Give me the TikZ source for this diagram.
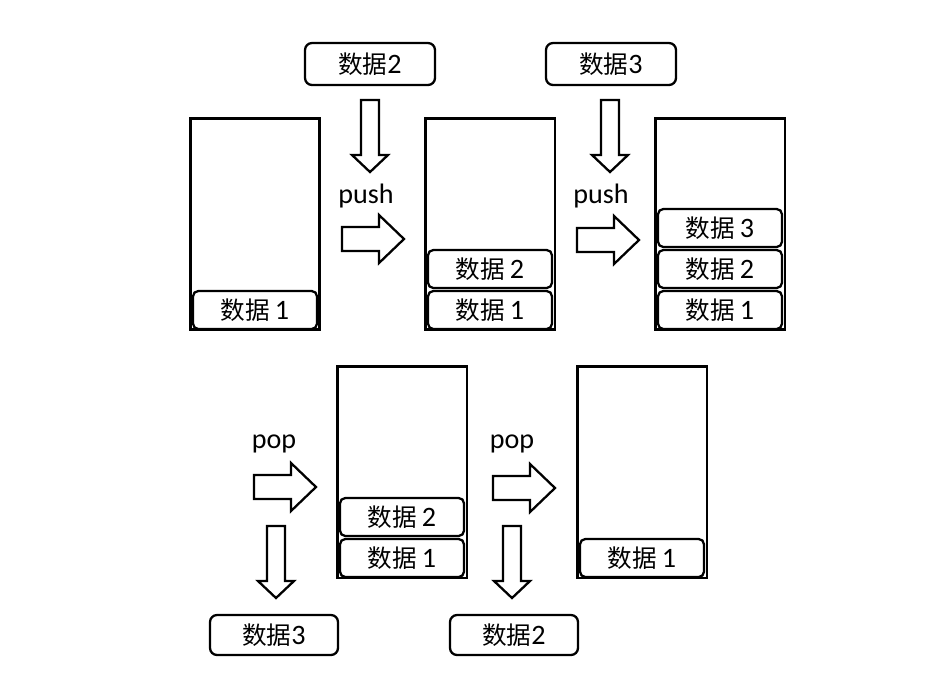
\documentclass[tikz,border=0pt]{standalone}
\usepackage{fontspec}
\setmainfont{Carlito}
\newfontfamily\cjk{Noto Sans CJK SC}
\usepackage{tikz}
\usetikzlibrary{positioning}
\newcommand{\shuju}{{\cjk\fontsize{14}{16}\selectfont 数据}}

\begin{document}
\begin{tikzpicture}[x=0.02cm, y=-0.02cm,
    stackbox/.style={draw, line width=1.7pt, rectangle, minimum width=2.6cm, minimum height=4.24cm, inner sep=0pt},
    cell/.style={draw, line width=1.3pt, rectangle, rounded corners=3pt, minimum width=2.48cm, minimum height=0.76cm, inner sep=0pt, font=\fontsize{16}{18}\selectfont},
    databox/.style={draw, line width=1.3pt, rectangle, rounded corners=4pt, minimum width=2.6cm, minimum height=0.84cm, inner sep=0pt, font=\fontsize{16}{18}\selectfont},
    oplabel/.style={anchor=base, inner sep=0pt, font=\fontsize{16}{18}\selectfont},
    rarrow/.pic={\draw[line width=1.3pt, line join=miter] (0,-12) -- (37,-12) -- (37,-24) -- (62,0) -- (37,24) -- (37,12) -- (0,12) -- cycle;},
    darrow/.pic={\draw[line width=1.3pt, line join=miter] (-9,0) -- (-9,55) -- (-18,55) -- (0,72) -- (18,55) -- (9,55) -- (9,0) -- cycle;}]
    \useasboundingbox (0,0) rectangle (942,674);

    % push row
    \node[stackbox] (s1) at (255,224) {};
    \node[cell] (s1a) at (255,310) {\shuju\,1};

    \node[databox] (in2) at (370,64) {\shuju2};
    \pic at (370,100) {darrow};
    \node[oplabel] (push1) at (366,203) {push};
    \pic at (342,239) {rarrow};

    \node[stackbox] (s2) at (490,224) {};
    \node[cell] (s2a) at (490,310) {\shuju\,1};
    \node[cell] (s2b) at (490,269) {\shuju\,2};

    \node[databox] (in3) at (611,64) {\shuju3};
    \pic at (610,100) {darrow};
    \node[oplabel] (push2) at (601,203) {push};
    \pic at (577,240) {rarrow};

    \node[stackbox] (s3) at (720,224) {};
    \node[cell] (s3a) at (720,310) {\shuju\,1};
    \node[cell] (s3b) at (720,269) {\shuju\,2};
    \node[cell] (s3c) at (720,228) {\shuju\,3};

    % pop row
    \node[oplabel] (pop1) at (274,448) {pop};
    \pic at (254,487) {rarrow};
    \pic at (276,526) {darrow};
    \node[databox, minimum width=2.56cm, minimum height=0.8cm] (out3) at (274,635) {\shuju3};

    \node[stackbox] (s4) at (402,472) {};
    \node[cell] (s4a) at (402,558) {\shuju\,1};
    \node[cell] (s4b) at (402,517) {\shuju\,2};

    \node[oplabel] (pop2) at (512,448) {pop};
    \pic at (493,488) {rarrow};
    \pic at (512,526) {darrow};
    \node[databox, minimum width=2.56cm, minimum height=0.8cm] (out2) at (514,635) {\shuju2};

    \node[stackbox] (s5) at (642,472) {};
    \node[cell] (s5a) at (642,558) {\shuju\,1};
\end{tikzpicture}
\end{document}
